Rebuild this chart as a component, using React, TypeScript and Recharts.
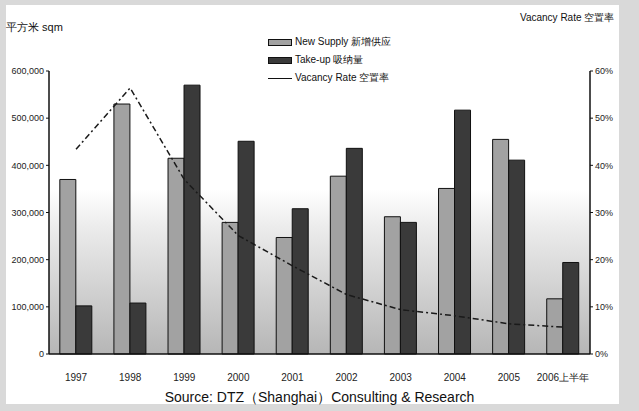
import React from 'react';
import { ComposedChart, Bar, Line, XAxis, YAxis, CartesianGrid } from 'recharts';

const years = ['1997', '1998', '1999', '2000', '2001', '2002', '2003', '2004', '2005', '2006上半年'];
const newSupply = [370000, 530000, 415000, 279000, 247000, 377000, 291000, 351000, 455000, 117000];
const takeUp = [102000, 108000, 570000, 451000, 308000, 436000, 279000, 517000, 411000, 194000];
const vacancyRate = [43.4, 56.4, 37.0, 25.1, 18.7, 12.6, 9.4, 8.1, 6.4, 5.7];

const areaTicks = [0, 100000, 200000, 300000, 400000, 500000, 600000];
const rateTicks = [0, 10, 20, 30, 40, 50, 60];

const rows = years.map((year, i) => ({
  year,
  supply: newSupply[i],
  takeup: takeUp[i],
  vacancy: vacancyRate[i],
}));

const FONT = '"Liberation Sans", Arial, sans-serif';
const LIGHT = '#a2a2a2';
const DARK = '#3a3a3a';

const legendItems = [
  { label: 'New Supply 新增供应', kind: 'bar', color: LIGHT },
  { label: 'Take-up 吸纳量', kind: 'bar', color: DARK },
  { label: 'Vacancy Rate 空置率', kind: 'line', color: '#111' },
];

// legend block sits inside the plot, top centre
const ChartLegend = () => (
  <div style={{ position: 'absolute', left: 268, top: 33, fontFamily: FONT, fontSize: 10, color: '#111' }}>
    {legendItems.map((item) => (
      <div key={item.label} style={{ display: 'flex', alignItems: 'center', height: 18 }}>
        {item.kind === 'bar' ? (
          <span style={{ width: 22, height: 5, background: item.color, border: '1px solid #111', marginRight: 3 }} />
        ) : (
          <span style={{ width: 24, height: 0, borderTop: '1.5px solid #111', marginRight: 3 }} />
        )}
        <span>{item.label}</span>
      </div>
    ))}
  </div>
);

export default function App() {
  return (
    <div style={{ position: 'absolute', left: 0, top: 0, width: 639, height: 411, background: '#d9d9d9', fontFamily: FONT }}>
      <div style={{ position: 'absolute', left: 6, top: 5, width: 613, height: 399, background: '#ffffff' }} />
      <div style={{ position: 'absolute', left: 6, top: 20, fontSize: 11, color: '#111' }}>平方米 sqm</div>
      <div style={{ position: 'absolute', left: 520, top: 11, fontSize: 10, color: '#111' }}>Vacancy Rate 空置率</div>
      <div style={{ position: 'absolute', left: 0, top: 0 }}>
        <ComposedChart
          width={639}
          height={411}
          data={rows}
          margin={{ top: 71, right: 9, bottom: 37, left: 9 }}
          barCategoryGap="20%"
          barGap={0}
        >
          <defs>
            <linearGradient id="plotBg" x1="0" y1="0" x2="0" y2="1">
              <stop offset="0" stopColor="#ffffff" />
              <stop offset="0.42" stopColor="#ffffff" />
              <stop offset="0.55" stopColor="#ececec" />
              <stop offset="1" stopColor="#b6b6b6" />
            </linearGradient>
          </defs>
          <CartesianGrid horizontal={false} vertical={false} fill="url(#plotBg)" />
          <XAxis
            dataKey="year"
            height={20}
            tickLine={false}
            axisLine={{ stroke: '#111', strokeWidth: 1.5 }}
            tickMargin={14}
            tick={{ fontSize: 10, fill: '#222', fontFamily: FONT }}
            interval={0}
          />
          <YAxis
            yAxisId="area"
            width={40}
            domain={[0, 600000]}
            ticks={areaTicks}
            tickFormatter={(v: number) => v.toLocaleString('en-US')}
            tickSize={3}
            tickLine={{ stroke: '#111' }}
            axisLine={{ stroke: '#111', strokeWidth: 1.5 }}
            tick={{ fontSize: 9, fill: '#222', fontFamily: FONT }}
          />
          <YAxis
            yAxisId="rate"
            orientation="right"
            width={40}
            domain={[0, 60]}
            ticks={rateTicks}
            tickFormatter={(v: number) => `${v}%`}
            tickSize={3}
            tickLine={{ stroke: '#111' }}
            axisLine={{ stroke: '#111', strokeWidth: 1.5 }}
            tick={{ fontSize: 9, fill: '#222', fontFamily: FONT }}
          />
          <Bar yAxisId="area" dataKey="supply" fill={LIGHT} stroke="#111" strokeWidth={1} isAnimationActive={false} />
          <Bar yAxisId="area" dataKey="takeup" fill={DARK} stroke="#111" strokeWidth={1} isAnimationActive={false} />
          <Line
            yAxisId="rate"
            type="linear"
            dataKey="vacancy"
            stroke="#1a1a1a"
            strokeWidth={1.5}
            strokeDasharray="6 3 2 3"
            dot={false}
            isAnimationActive={false}
          />
        </ComposedChart>
      </div>
      <ChartLegend />
      <div style={{ position: 'absolute', left: 0, width: 639, top: 389, textAlign: 'center', fontSize: 14, color: '#111' }}>
        Source: DTZ（Shanghai）Consulting &amp; Research
      </div>
    </div>
  );
}
